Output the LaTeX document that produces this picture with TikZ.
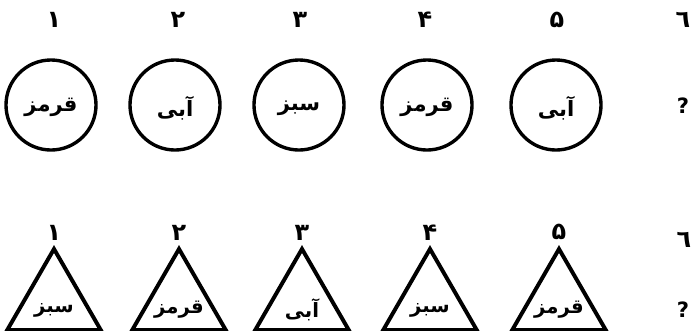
\documentclass[tikz,border=0pt]{standalone}
\usepackage{fontspec}
\newfontfamily\arabicfont[Script=Arabic]{DejaVu Sans}
\TeXXeTstate=1
\usetikzlibrary{shapes.geometric}
\begin{document}
\begin{tikzpicture}[x=0.025cm,y=-0.025cm,
	word/.style={font=\arabicfont\bfseries\fontsize{15}{18}\selectfont},
	small/.style={font=\arabicfont\bfseries\fontsize{14}{17}\selectfont,yshift=-5pt},
	num/.style={font=\arabicfont\bfseries\fontsize{17}{20}\selectfont},
	disc/.style={circle,draw,line width=2.4pt,minimum size=2.25cm,inner sep=0pt},
	tri/.style={regular polygon,regular polygon sides=3,draw,line width=2.8pt,minimum size=2.7cm,inner sep=0pt}]
	\useasboundingbox (0,0) rectangle (692,330);
	\node[disc] (c1) at (51,105) {};
	\node[disc] (c2) at (175,105) {};
	\node[disc] (c3) at (299,105) {};
	\node[disc] (c4) at (427,105) {};
	\node[disc] (c5) at (556,105) {};
	\node[word,yshift=-2pt] (cw1) at (c1.center) {\beginR قرمز\endR};
	\node[word,yshift=-2pt] (cw2) at (c2.center) {\beginR آبی\endR};
	\node[word,yshift=-2pt] (cw3) at (c3.center) {\beginR سبز\endR};
	\node[word,yshift=-2pt] (cw4) at (c4.center) {\beginR قرمز\endR};
	\node[word,yshift=-2pt] (cw5) at (c5.center) {\beginR آبی\endR};
	\node[num] (cn1) at (54,20) {\beginR ۱\endR};
	\node[num] (cn2) at (178,20) {\beginR ۲\endR};
	\node[num] (cn3) at (300,20) {\beginR ۳\endR};
	\node[num] (cn4) at (425,20) {\beginR ۴\endR};
	\node[num] (cn5) at (557,20) {\beginR ۵\endR};
	\node[num] (cn6) at (683,20) {\beginR ٦\endR};
	\node[word] (cq) at (683,106) {?};
	\node[tri] (t1) at (54,303) {};
	\node[tri] (t2) at (179,303) {};
	\node[tri] (t3) at (302,303) {};
	\node[tri] (t4) at (430,303) {};
	\node[tri] (t5) at (559,303) {};
	\node[small] (tw1) at (t1.center) {\beginR سبز\endR};
	\node[small] (tw2) at (t2.center) {\beginR قرمز\endR};
	\node[small] (tw3) at (t3.center) {\beginR آبی\endR};
	\node[small] (tw4) at (t4.center) {\beginR سبز\endR};
	\node[small] (tw5) at (t5.center) {\beginR قرمز\endR};
	\node[num,anchor=south] (tn1) at (t1.corner 1) {\beginR ۱\endR};
	\node[num,anchor=south] (tn2) at (t2.corner 1) {\beginR ۲\endR};
	\node[num,anchor=south] (tn3) at (t3.corner 1) {\beginR ۳\endR};
	\node[num,anchor=south] (tn4) at (t4.corner 1) {\beginR ۴\endR};
	\node[num,anchor=south] (tn5) at (t5.corner 1) {\beginR ۵\endR};
	\node[num] (tn6) at (684,240) {\beginR ٦\endR};
	\node[word] (tq) at (683,310) {?};
\end{tikzpicture}
\end{document}
